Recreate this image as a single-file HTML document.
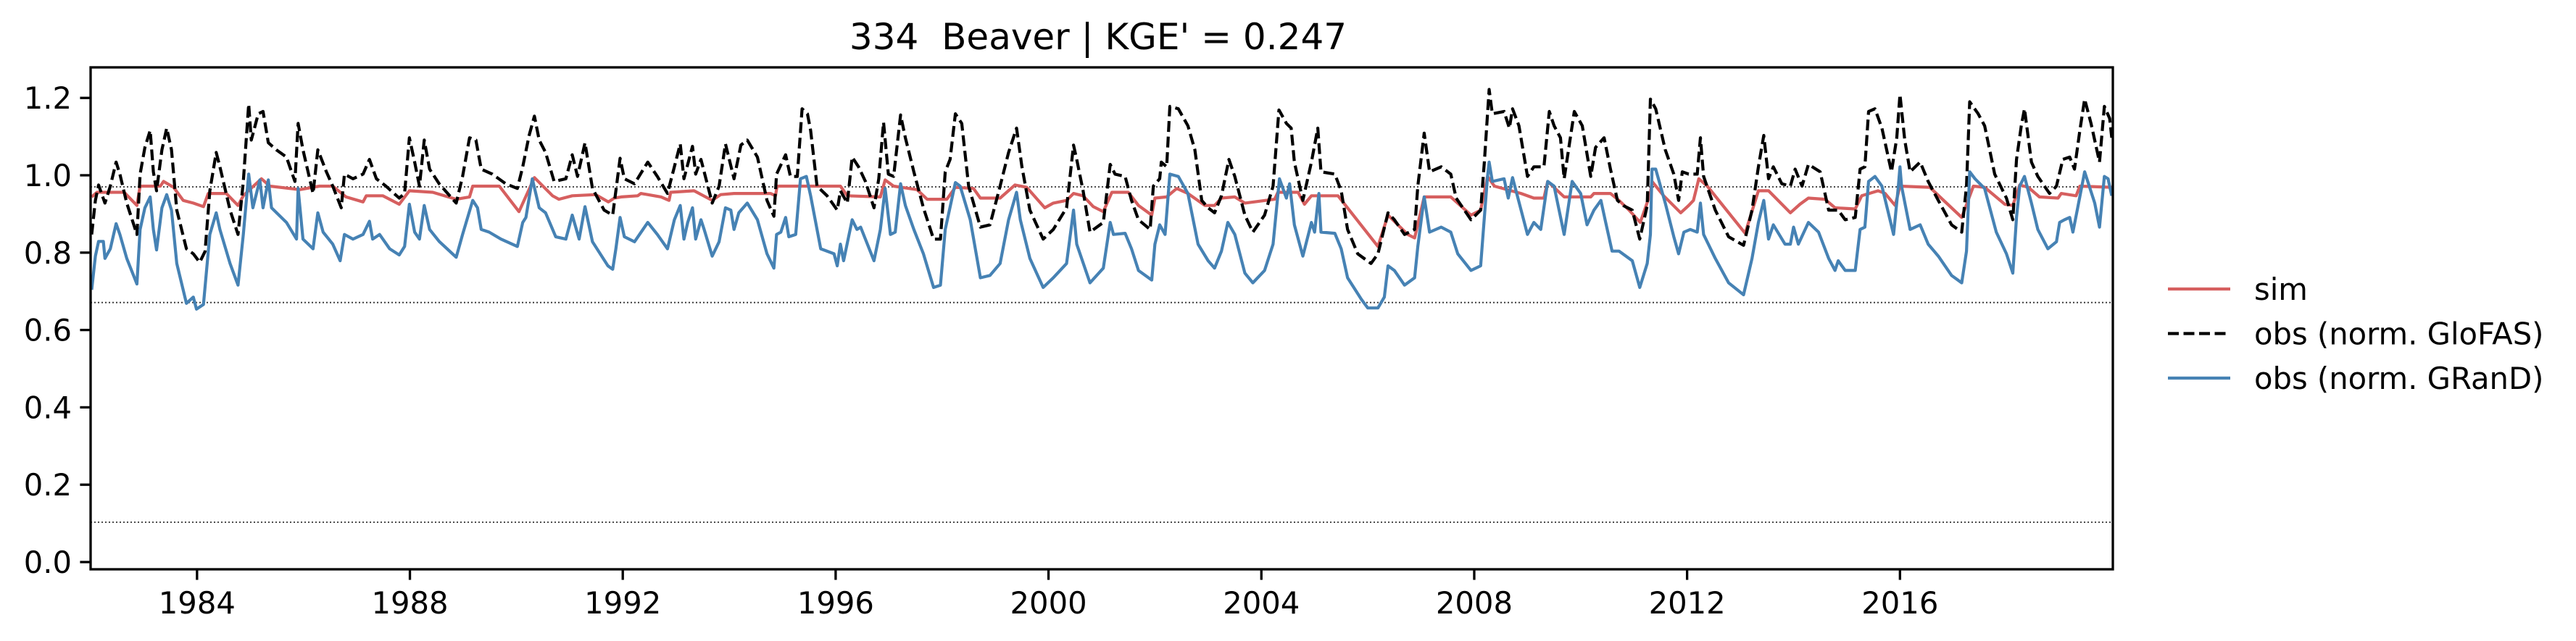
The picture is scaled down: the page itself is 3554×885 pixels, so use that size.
<!DOCTYPE html>
<html><head><meta charset="utf-8"><style>
html,body{margin:0;padding:0;background:#fff;}
svg{display:block;font-family:"DejaVu Sans","Liberation Sans",sans-serif;}
</style></head><body>
<svg id="chart" width="3554" height="885" viewBox="0 0 3554 885" xmlns="http://www.w3.org/2000/svg">
<rect x="0" y="0" width="3554" height="885" fill="#fff"/>
<text x="1515" y="68" font-size="50" text-anchor="middle" xml:space="preserve">334  Beaver | KGE' = 0.247</text>
<g id="grid"></g>
<g id="series"></g>
<rect x="125" y="93" width="2790" height="693" fill="none" stroke="#000" stroke-width="3.3"/>
<g id="axes"></g>
<g id="legend"></g>
</svg>
<script>
const yTicks = [0.0, 0.2, 0.4, 0.6, 0.8, 1.0, 1.2];
const yTickLabels = ["0.0","0.2","0.4","0.6","0.8","1.0","1.2"];
const xTicks = [1984, 1988, 1992, 1996, 2000, 2004, 2008, 2012, 2016];
const refLevels = [0.97, 0.671, 0.103];

const simDates = [1982.02,1982.12,1982.63,1982.87,1982.93,1983.31,1983.37,1983.56,1983.74,1983.93,1984.12,1984.21,1984.55,1984.77,1984.87,1984.99,1985.21,1985.37,1985.93,1986.30,1986.55,1986.80,1987.12,1987.18,1987.49,1987.80,1987.99,1988.43,1988.87,1989.12,1989.18,1989.68,1990.05,1990.34,1990.68,1990.80,1991.05,1991.49,1991.73,1991.84,1991.97,1992.28,1992.34,1992.72,1992.87,1992.90,1993.34,1993.68,1993.84,1994.09,1994.78,1994.87,1994.90,1995.59,1996.09,1996.22,1996.84,1996.93,1997.09,1997.53,1997.72,1998.09,1998.25,1998.59,1998.72,1999.09,1999.37,1999.59,1999.93,2000.09,2000.34,2000.47,2000.65,2000.84,2001.03,2001.19,2001.50,2001.69,2001.94,2002.00,2002.22,2002.41,2002.62,2002.94,2003.12,2003.25,2003.50,2003.69,2004.25,2004.31,2004.69,2004.81,2004.94,2005.44,2006.19,2006.38,2006.75,2006.88,2007.06,2007.56,2007.94,2008.12,2008.25,2008.38,2008.88,2009.12,2009.31,2009.38,2009.69,2010.19,2010.25,2010.56,2010.72,2010.91,2011.12,2011.31,2011.34,2011.56,2011.88,2012.03,2012.12,2012.22,2012.38,2013.09,2013.34,2013.53,2013.94,2014.12,2014.28,2014.59,2014.78,2015.16,2015.28,2015.59,2015.72,2015.91,2016.00,2016.56,2017.16,2017.28,2017.38,2017.59,2017.97,2018.12,2018.25,2018.41,2018.62,2018.97,2019.03,2019.31,2019.38,2019.98];
const simValues = [0.944,0.956,0.956,0.922,0.972,0.972,0.984,0.969,0.935,0.928,0.919,0.953,0.953,0.922,0.947,0.963,0.991,0.972,0.963,0.972,0.972,0.944,0.931,0.947,0.947,0.925,0.960,0.956,0.938,0.944,0.972,0.972,0.906,0.994,0.947,0.938,0.947,0.950,0.931,0.941,0.944,0.947,0.953,0.944,0.935,0.956,0.960,0.935,0.950,0.953,0.953,0.947,0.972,0.972,0.972,0.947,0.944,0.988,0.972,0.963,0.938,0.938,0.969,0.966,0.941,0.941,0.975,0.969,0.916,0.928,0.935,0.953,0.947,0.919,0.906,0.956,0.956,0.922,0.897,0.941,0.944,0.966,0.953,0.922,0.922,0.941,0.944,0.928,0.938,0.956,0.956,0.925,0.947,0.947,0.816,0.897,0.847,0.838,0.944,0.944,0.897,0.910,0.997,0.972,0.953,0.941,0.941,0.984,0.944,0.944,0.953,0.953,0.935,0.910,0.878,0.953,0.984,0.947,0.903,0.922,0.935,0.991,0.972,0.850,0.960,0.960,0.903,0.925,0.941,0.938,0.916,0.913,0.947,0.960,0.953,0.922,0.972,0.969,0.891,0.935,0.972,0.969,0.925,0.922,0.975,0.969,0.944,0.941,0.953,0.947,0.972,0.969];

const glofasDates = [1982.02,1982.09,1982.15,1982.27,1982.37,1982.48,1982.55,1982.68,1982.87,1982.93,1983.02,1983.12,1983.18,1983.24,1983.34,1983.43,1983.52,1983.62,1983.80,1983.93,1984.05,1984.15,1984.24,1984.36,1984.43,1984.62,1984.77,1984.87,1984.97,1985.02,1985.15,1985.24,1985.34,1985.49,1985.68,1985.84,1985.90,1985.99,1986.18,1986.27,1986.43,1986.55,1986.71,1986.77,1986.93,1987.12,1987.24,1987.37,1987.55,1987.80,1987.90,1987.99,1988.09,1988.18,1988.27,1988.37,1988.55,1988.87,1988.99,1989.12,1989.24,1989.34,1989.55,1989.80,1990.02,1990.12,1990.24,1990.34,1990.43,1990.55,1990.71,1990.93,1991.05,1991.15,1991.29,1991.43,1991.65,1991.81,1991.87,1991.95,1992.03,1992.22,1992.47,1992.65,1992.84,1992.97,1993.08,1993.15,1993.31,1993.37,1993.47,1993.68,1993.81,1993.93,1994.09,1994.22,1994.34,1994.53,1994.71,1994.84,1994.89,1995.06,1995.15,1995.28,1995.37,1995.47,1995.53,1995.65,1995.84,1996.03,1996.09,1996.22,1996.31,1996.43,1996.56,1996.72,1996.81,1996.90,1996.99,1997.09,1997.22,1997.31,1997.47,1997.65,1997.84,1997.97,1998.06,1998.15,1998.25,1998.37,1998.50,1998.72,1998.90,1999.09,1999.25,1999.40,1999.50,1999.65,1999.90,2000.09,2000.34,2000.47,2000.53,2000.65,2000.78,2001.03,2001.16,2001.25,2001.44,2001.56,2001.69,2001.91,2001.97,2002.09,2002.12,2002.22,2002.28,2002.44,2002.62,2002.75,2002.88,2003.00,2003.12,2003.25,2003.39,2003.50,2003.69,2003.84,2004.06,2004.22,2004.33,2004.47,2004.56,2004.62,2004.78,2004.94,2005.06,2005.12,2005.38,2005.50,2005.62,2005.81,2006.06,2006.19,2006.38,2006.50,2006.69,2006.88,2006.94,2007.06,2007.16,2007.38,2007.56,2007.66,2007.94,2008.12,2008.19,2008.28,2008.34,2008.56,2008.66,2008.72,2008.84,2009.00,2009.12,2009.31,2009.41,2009.50,2009.62,2009.69,2009.88,2010.03,2010.19,2010.28,2010.44,2010.56,2010.69,2010.80,2010.97,2011.11,2011.25,2011.31,2011.41,2011.59,2011.75,2011.84,2011.91,2012.03,2012.19,2012.25,2012.31,2012.53,2012.78,2013.06,2013.22,2013.34,2013.44,2013.53,2013.62,2013.78,2013.94,2014.03,2014.16,2014.28,2014.50,2014.66,2014.84,2014.97,2015.16,2015.25,2015.34,2015.41,2015.53,2015.66,2015.84,2015.94,2016.00,2016.09,2016.19,2016.38,2016.53,2016.72,2016.97,2017.16,2017.25,2017.31,2017.47,2017.59,2017.78,2018.00,2018.12,2018.19,2018.28,2018.34,2018.47,2018.59,2018.81,2018.94,2019.06,2019.19,2019.28,2019.38,2019.47,2019.59,2019.75,2019.84,2019.94,2019.98];
const glofasValues = [0.847,0.935,0.975,0.928,0.972,1.034,1.003,0.928,0.847,1.003,1.072,1.116,1.009,0.960,1.066,1.122,1.066,0.910,0.810,0.797,0.775,0.803,0.960,1.059,1.022,0.910,0.847,0.984,1.184,1.091,1.159,1.165,1.084,1.066,1.047,0.984,1.134,1.066,0.953,1.066,1.009,0.972,0.916,1.003,0.991,1.003,1.041,0.991,0.972,0.941,0.953,1.097,1.034,0.972,1.091,1.016,0.978,0.928,0.997,1.097,1.091,1.016,1.003,0.978,0.966,1.022,1.103,1.153,1.091,1.059,0.984,0.991,1.053,0.997,1.084,0.966,0.910,0.897,0.960,1.044,0.991,0.978,1.034,0.997,0.953,1.022,1.081,0.991,1.075,1.003,1.041,0.928,0.972,1.081,0.991,1.078,1.091,1.047,0.935,0.894,1.003,1.053,0.997,0.997,1.172,1.159,1.116,0.972,0.947,0.910,0.960,0.928,1.047,1.022,0.984,0.916,0.991,1.137,1.003,0.997,1.156,1.097,1.009,0.916,0.835,0.835,1.009,1.041,1.159,1.134,0.972,0.866,0.872,0.972,1.059,1.122,1.022,0.910,0.835,0.860,0.916,1.078,1.041,0.960,0.853,0.878,1.028,1.003,0.997,0.935,0.885,0.860,0.972,0.991,1.034,1.022,1.178,1.172,1.128,1.066,0.935,0.916,0.903,0.947,1.041,0.997,0.897,0.853,0.897,0.972,1.169,1.134,1.122,1.034,0.935,1.034,1.122,1.009,1.003,0.960,0.860,0.797,0.772,0.797,0.903,0.885,0.847,0.860,0.972,1.109,1.009,1.022,1.003,0.941,0.885,0.910,1.034,1.222,1.159,1.165,1.122,1.172,1.128,0.997,1.022,1.022,1.165,1.128,1.097,0.991,1.165,1.128,0.997,1.072,1.097,1.016,0.935,0.922,0.910,0.835,0.922,1.197,1.172,1.066,1.003,0.935,1.009,1.003,1.003,1.097,0.997,0.910,0.841,0.819,0.910,1.022,1.103,0.991,1.022,0.978,0.972,1.016,0.972,1.028,1.009,0.910,0.910,0.885,0.891,1.016,1.022,1.165,1.172,1.122,1.009,1.097,1.209,1.091,1.009,1.034,0.984,0.935,0.872,0.853,0.972,1.190,1.159,1.128,1.003,0.941,0.885,1.041,1.128,1.172,1.034,0.997,0.953,0.972,1.041,1.047,1.016,1.116,1.197,1.134,1.034,1.178,1.147,1.097];

const grandDates = [1982.02,1982.09,1982.15,1982.24,1982.27,1982.37,1982.48,1982.55,1982.68,1982.87,1982.93,1983.02,1983.12,1983.18,1983.24,1983.34,1983.43,1983.52,1983.62,1983.80,1983.93,1983.99,1984.12,1984.24,1984.36,1984.43,1984.62,1984.77,1984.87,1984.97,1985.05,1985.18,1985.24,1985.34,1985.40,1985.68,1985.87,1985.90,1985.99,1986.18,1986.27,1986.37,1986.55,1986.69,1986.77,1986.93,1987.12,1987.24,1987.30,1987.43,1987.62,1987.80,1987.90,1987.99,1988.09,1988.18,1988.27,1988.37,1988.55,1988.87,1988.99,1989.18,1989.27,1989.34,1989.49,1989.71,1990.02,1990.12,1990.18,1990.30,1990.43,1990.55,1990.74,1990.93,1991.05,1991.18,1991.29,1991.43,1991.72,1991.81,1991.87,1991.95,1992.03,1992.22,1992.47,1992.65,1992.84,1992.97,1993.08,1993.15,1993.22,1993.31,1993.37,1993.47,1993.53,1993.68,1993.81,1993.93,1994.03,1994.09,1994.18,1994.34,1994.53,1994.71,1994.84,1994.89,1994.97,1995.06,1995.12,1995.25,1995.34,1995.45,1995.53,1995.72,1995.97,1996.03,1996.09,1996.15,1996.31,1996.40,1996.47,1996.72,1996.84,1996.93,1997.03,1997.12,1997.22,1997.31,1997.47,1997.65,1997.84,1997.97,1998.06,1998.25,1998.34,1998.53,1998.72,1998.90,1999.09,1999.25,1999.40,1999.47,1999.65,1999.90,2000.09,2000.34,2000.47,2000.53,2000.78,2001.03,2001.16,2001.22,2001.44,2001.56,2001.69,2001.94,2002.00,2002.09,2002.19,2002.28,2002.44,2002.62,2002.81,2003.00,2003.12,2003.25,2003.37,2003.50,2003.69,2003.84,2004.06,2004.22,2004.34,2004.47,2004.53,2004.62,2004.78,2004.94,2005.00,2005.08,2005.12,2005.38,2005.50,2005.62,2005.88,2006.00,2006.19,2006.31,2006.38,2006.50,2006.69,2006.88,2006.94,2007.06,2007.16,2007.38,2007.56,2007.69,2007.94,2008.12,2008.19,2008.25,2008.28,2008.34,2008.56,2008.64,2008.72,2008.88,2009.00,2009.12,2009.25,2009.38,2009.50,2009.69,2009.84,2010.00,2010.12,2010.25,2010.38,2010.47,2010.59,2010.72,2010.97,2011.11,2011.25,2011.31,2011.34,2011.41,2011.59,2011.75,2011.84,2011.94,2012.06,2012.19,2012.25,2012.31,2012.53,2012.78,2013.06,2013.22,2013.34,2013.44,2013.53,2013.62,2013.84,2013.94,2014.00,2014.09,2014.28,2014.47,2014.66,2014.78,2014.84,2014.97,2015.16,2015.25,2015.34,2015.41,2015.53,2015.66,2015.88,2015.97,2016.00,2016.03,2016.19,2016.38,2016.53,2016.72,2016.97,2017.16,2017.25,2017.31,2017.41,2017.59,2017.81,2018.00,2018.12,2018.19,2018.25,2018.34,2018.47,2018.59,2018.78,2018.94,2019.00,2019.09,2019.19,2019.25,2019.34,2019.47,2019.66,2019.75,2019.84,2019.91,2019.98];
const grandValues = [0.704,0.791,0.829,0.829,0.785,0.810,0.875,0.847,0.785,0.719,0.860,0.916,0.944,0.860,0.807,0.916,0.950,0.910,0.772,0.669,0.685,0.654,0.666,0.847,0.903,0.860,0.772,0.716,0.847,1.003,0.916,0.988,0.916,0.988,0.916,0.878,0.835,0.966,0.835,0.810,0.903,0.853,0.822,0.779,0.847,0.835,0.847,0.881,0.835,0.847,0.810,0.794,0.816,0.925,0.853,0.835,0.922,0.860,0.829,0.788,0.847,0.935,0.916,0.860,0.853,0.835,0.816,0.878,0.891,0.991,0.916,0.903,0.841,0.835,0.897,0.835,0.919,0.828,0.766,0.757,0.810,0.891,0.841,0.828,0.878,0.847,0.810,0.885,0.922,0.835,0.878,0.916,0.835,0.885,0.860,0.791,0.828,0.916,0.910,0.860,0.903,0.928,0.885,0.797,0.760,0.847,0.853,0.891,0.841,0.847,0.991,0.997,0.947,0.810,0.797,0.766,0.822,0.779,0.885,0.860,0.866,0.779,0.860,0.966,0.847,0.853,0.978,0.922,0.860,0.797,0.710,0.716,0.860,0.981,0.972,0.885,0.735,0.741,0.772,0.885,0.956,0.885,0.785,0.710,0.735,0.772,0.910,0.822,0.722,0.760,0.878,0.847,0.850,0.810,0.754,0.729,0.822,0.872,0.847,1.003,0.997,0.953,0.822,0.779,0.760,0.804,0.878,0.847,0.747,0.722,0.754,0.822,0.991,0.941,0.978,0.872,0.791,0.878,0.853,0.953,0.853,0.850,0.810,0.735,0.679,0.657,0.657,0.685,0.766,0.754,0.716,0.735,0.816,0.944,0.853,0.866,0.853,0.797,0.754,0.766,0.891,0.997,1.034,0.984,0.991,0.941,0.994,0.910,0.847,0.878,0.860,0.984,0.972,0.847,0.984,0.953,0.872,0.910,0.935,0.878,0.804,0.804,0.779,0.710,0.772,0.847,1.016,1.016,0.928,0.841,0.797,0.853,0.860,0.853,0.928,0.847,0.785,0.722,0.691,0.785,0.878,0.935,0.835,0.872,0.822,0.822,0.866,0.822,0.878,0.853,0.785,0.754,0.779,0.754,0.754,0.860,0.866,0.984,0.997,0.972,0.847,0.972,1.022,0.972,0.860,0.872,0.822,0.791,0.741,0.722,0.804,1.009,0.991,0.966,0.853,0.797,0.747,0.891,0.972,0.997,0.928,0.860,0.810,0.828,0.878,0.885,0.891,0.853,0.916,1.009,0.928,0.866,0.997,0.991,0.947];

const X0 = 125, X1 = 2915, Y0PX = 776, PX_PER_UNIT = 534;
const xMin = 1982.0, xMax = 2020.0;
function xScale(t){ return X0 + (t - xMin) / (xMax - xMin) * (X1 - X0); }
function yScale(v){ return Y0PX - v * PX_PER_UNIT; }
const NS = "http://www.w3.org/2000/svg";
function mk(tag, attrs, parent){ const e = document.createElementNS(NS, tag); for (const k in attrs) e.setAttribute(k, attrs[k]); parent.appendChild(e); return e; }

const grid = document.getElementById('grid');
refLevels.forEach(function(v){
  const l = mk('line', {x1: X0, x2: X1, y1: yScale(v), y2: yScale(v), stroke: '#333', 'stroke-width': 1.8, 'stroke-dasharray': '2 3'}, grid);
  
  
});

const series = document.getElementById('series');
function pathFor(dates, vals){ return dates.map(function(d, i){ return (i ? 'L' : 'M') + xScale(d).toFixed(1) + ',' + yScale(vals[i]).toFixed(1); }).join(''); }
const pSim = mk('path', {d: pathFor(simDates, simValues), fill: 'none', stroke: '#d65f5f', 'stroke-width': 4.2, 'stroke-linejoin': 'round'}, series);


const pGlo = mk('path', {d: pathFor(glofasDates, glofasValues), fill: 'none', stroke: '#000', 'stroke-width': 4.2, 'stroke-dasharray': '15 6.5', 'stroke-linejoin': 'round'}, series);


const pGr = mk('path', {d: pathFor(grandDates, grandValues), fill: 'none', stroke: '#4682b4', 'stroke-width': 4.2, 'stroke-linejoin': 'round'}, series);



const axes = document.getElementById('axes');
yTicks.forEach(function(v, i){
  const y = yScale(v);
  const t = mk('line', {x1: X0 - 14.6, x2: X0, y1: y, y2: y, stroke: '#000', 'stroke-width': 3.3}, axes);
  
  
  const lb = mk('text', {x: X0 - 26, y: y + 15, 'font-size': 41.7, 'text-anchor': 'end'}, axes);
  lb.textContent = yTickLabels[i];
  
  
});
xTicks.forEach(function(yr){
  const x = xScale(yr);
  const t = mk('line', {x1: x, x2: x, y1: 786, y2: 800.6, stroke: '#000', 'stroke-width': 3.3}, axes);
  
  
  const lb = mk('text', {x: x, y: 847, 'font-size': 41.7, 'text-anchor': 'middle'}, axes);
  lb.textContent = String(yr);
  
  
});

const legend = document.getElementById('legend');
const legendLabels = ["sim", "obs (norm. GloFAS)", "obs (norm. GRanD)"];
const legendStyles = [{stroke: '#d65f5f'}, {stroke: '#000', 'stroke-dasharray': '15 6.5'}, {stroke: '#4682b4'}];
const legendNames = ['legend-entry-sim', 'legend-entry-glofas', 'legend-entry-grand'];
legendLabels.forEach(function(lab, i){
  const y = 399 + i * 61.5;
  const g = mk('g', {}, legend);
  
  
  const a = Object.assign({x1: 2991, x2: 3077, y1: y, y2: y, 'stroke-width': 4.2}, legendStyles[i]);
  mk('line', a, g);
  const tx = mk('text', {x: 3110, y: y + 15, 'font-size': 41.7}, g);
  tx.textContent = lab;
});
</script>
</body></html>
